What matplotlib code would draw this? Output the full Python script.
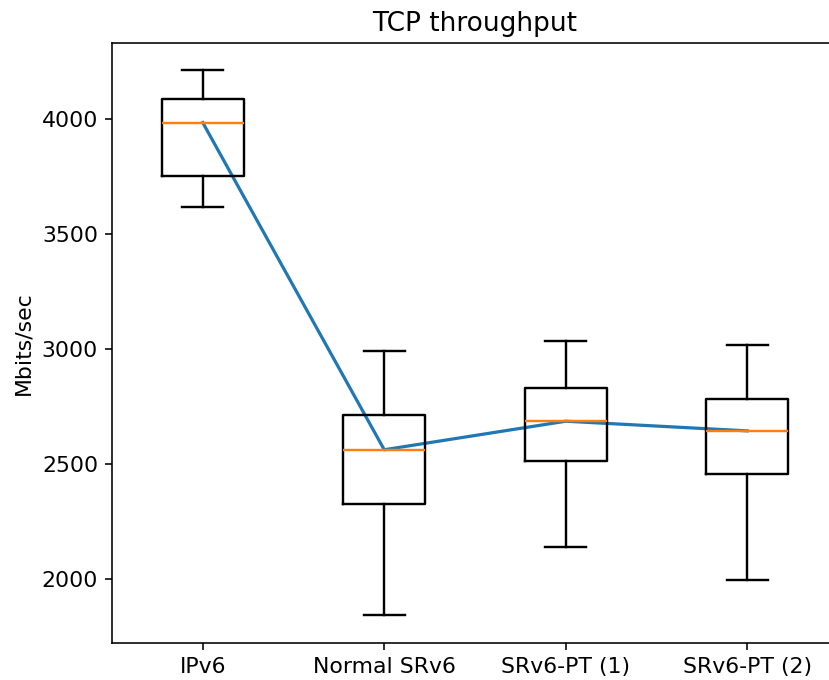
import matplotlib
matplotlib.use("Agg")
import matplotlib.pyplot as plt

plt.rcParams["font.size"] = 11

# valores (Mbits/sec)
etiquetas = ["IPv6", "Normal SRv6", "SRv6-PT (1)", "SRv6-PT (2)"]
bigote_inf = [3616, 1843, 2140, 1995]
q1 = [3752, 2327, 2513, 2455]
mediana = [3984, 2562, 2686, 2644]
q3 = [4087, 2712, 2829, 2784]
bigote_sup = [4212, 2990, 3036, 3017]

stats = []
for i in range(len(etiquetas)):
    stats.append({
        "label": etiquetas[i],
        "whislo": bigote_inf[i],
        "q1": q1[i],
        "med": mediana[i],
        "q3": q3[i],
        "whishi": bigote_sup[i],
        "fliers": [],
    })

fig = plt.figure(figsize=(829 / 144, 680 / 144), dpi=144)
ax = fig.add_axes([112 / 829, 37 / 680, 726 / 829, 600 / 680])

posiciones = list(range(1, len(etiquetas) + 1))
ax.plot(posiciones, mediana, color="#1f77b4", linewidth=1.6)
ax.bxp(stats, positions=posiciones, showfliers=False,
       boxprops={"linewidth": 1.2}, whiskerprops={"linewidth": 1.2},
       capprops={"linewidth": 1.2}, medianprops={"linewidth": 1.2})

ax.set_xlim(0.5, 4.5)
ax.set_ylim(1722, 4330)
ax.set_yticks([2000, 2500, 3000, 3500, 4000])
ax.set_title("TCP throughput")
ax.set_ylabel("Mbits/sec")

fig.savefig("out.png", dpi=144)
